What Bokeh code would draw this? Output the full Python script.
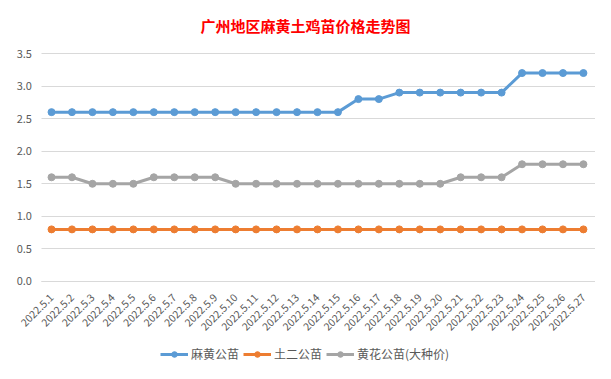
from bokeh.plotting import figure
from bokeh.models import Range1d, FixedTicker, Legend, LegendItem, NumeralTickFormatter, Title
from bokeh.embed import file_html
from bokeh.resources import INLINE
import math

dates = ["2022.5.%d" % d for d in range(1, 28)]
mahuang = [2.6]*15 + [2.8, 2.8] + [2.9]*6 + [3.2]*4
tuer = [0.8]*27
huanghua = [1.6, 1.6, 1.5, 1.5, 1.5, 1.6, 1.6, 1.6, 1.6] + [1.5]*11 + [1.6, 1.6, 1.6] + [1.8]*4
series_names = ["麻黄公苗", "土二公苗", "黄花公苗(大种价)"]
colors = ["#5B9BD5", "#ED7D31", "#A5A5A5"]
y_ticks = [0, 0.5, 1.0, 1.5, 2.0, 2.5, 3.0, 3.5]

idx = list(range(len(dates)))
FONT = "Noto Sans CJK SC"
X0, X1 = -0.47, 26.6  # plot-area edges in index units

p = figure(width=595, height=363, x_range=Range1d(-1.81, 26.59), y_range=Range1d(-1.259, 3.623),
           output_backend="svg", toolbar_location=None,
           min_border_left=14, min_border_right=0, min_border_top=45, min_border_bottom=0)
p.title = Title(text="广州地区麻黄土鸡苗价格走势图", align="left", offset=186, standoff=20,
                text_color="#FF0000", text_font_size="15px", text_font=FONT, text_font_style="bold")
p.outline_line_color = None
p.background_fill_color = "white"
p.border_fill_color = "white"

renderers = []
for vals, c in zip([mahuang, tuer, huanghua], colors):
    r1 = p.line(idx, vals, line_color=c, line_width=3)
    r2 = p.scatter(idx, vals, fill_color=c, line_color=c, size=7)
    renderers.append([r1, r2])

p.yaxis.fixed_location = X0
p.yaxis.ticker = FixedTicker(ticks=y_ticks)
p.yaxis.formatter = NumeralTickFormatter(format="0.0")
p.yaxis.axis_line_color = None
p.yaxis.major_tick_line_color = None
p.yaxis.minor_tick_line_color = None
p.yaxis.major_label_text_color = "#595959"
p.yaxis.major_label_text_font_size = "11px"
p.yaxis.major_label_text_font = FONT
p.yaxis.major_label_standoff = 4

p.xaxis.fixed_location = 0
p.xaxis.bounds = (X0, X1)
p.xaxis.ticker = FixedTicker(ticks=idx)
p.xaxis.major_label_overrides = {i: d for i, d in zip(idx, dates)}
p.xaxis.axis_line_color = "#D9D9D9"
p.xaxis.major_tick_line_color = None
p.xaxis.minor_tick_line_color = None
p.xaxis.major_label_orientation = math.pi / 4
p.xaxis.major_label_text_color = "#595959"
p.xaxis.major_label_text_font_size = "10.5px"
p.xaxis.major_label_text_font = FONT
p.xaxis.major_label_standoff = 8

p.xgrid.grid_line_color = None
p.ygrid.grid_line_color = "#D9D9D9"
p.ygrid.grid_line_width = 1
p.ygrid.ticker = FixedTicker(ticks=y_ticks)
g = p.ygrid[0]
if "cross_bounds" in g.properties():
    g.cross_bounds = (X0, X1)

legend = Legend(items=[LegendItem(label=n, renderers=r) for n, r in zip(series_names, renderers)],
                orientation="horizontal", location=(146, 1), border_line_color=None,
                background_fill_alpha=0,
                label_text_font=FONT, label_text_font_size="12px", label_text_color="#595959",
                glyph_width=28, glyph_height=14, label_height=14, spacing=4, label_standoff=3,
                padding=0, margin=0)
p.add_layout(legend, "center")

open("out.html", "w").write(file_html(p, INLINE))
